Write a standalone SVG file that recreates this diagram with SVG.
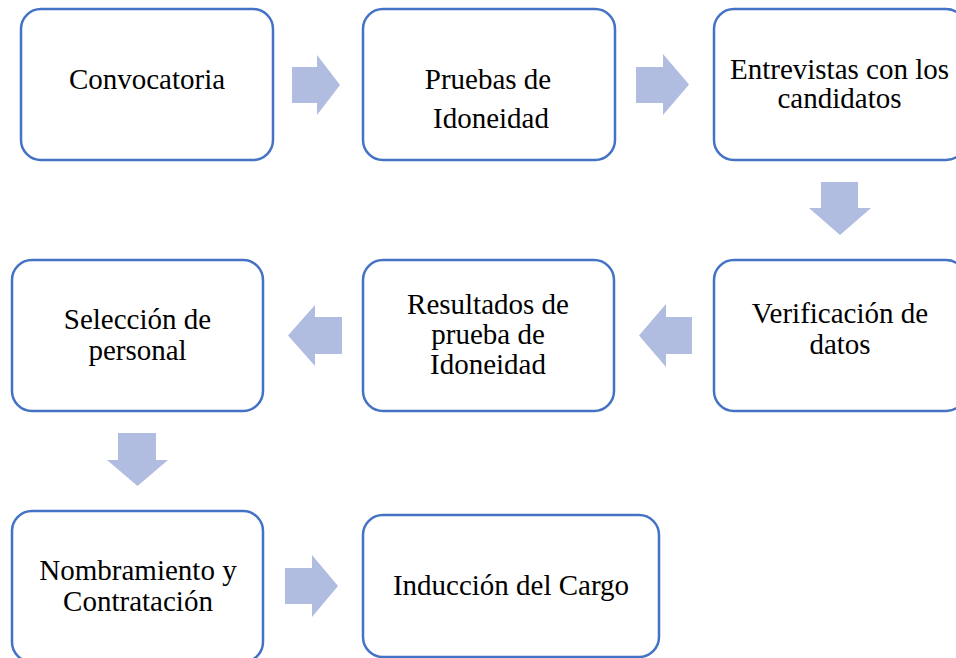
<svg xmlns="http://www.w3.org/2000/svg" width="956" height="658" viewBox="0 0 956 658">
<style>
.box{fill:#ffffff;stroke:#4472C4;stroke-width:2.5}
.lbl{font-size:29px;fill:#000000;text-anchor:middle}
.arr{fill:#B0BCE0;stroke:none}
</style>
<rect width="956" height="658" fill="#ffffff"/>
<g id="connectors">
<polygon class="arr" points="292,67 317,67 317,55 340,85 317,115 317,103 292,103"/>
<polygon class="arr" points="636,67 663,67 663,54 689,84.5 663,115 663,103 636,103"/>
<polygon class="arr" points="821,182 858,182 858,208 871,208 840,235 809,208 821,208"/>
<polygon class="arr" points="692,317 666,317 666,304 639,335.5 666,367 666,354 692,354"/>
<polygon class="arr" points="342,317 315,317 315,305 288,335.5 315,366 315,354 342,354"/>
<polygon class="arr" points="118,433 156,433 156,460 168,460 137.5,486 107,460 118,460"/>
<polygon class="arr" points="285,568 312,568 312,555 338,586 312,617 312,604 285,604"/>
</g>
<g font-family="Liberation Serif, Times New Roman, DejaVu Serif, serif">
<g id="n1">
<rect class="box" x="21" y="9" width="252" height="151" rx="20"/>
<text class="lbl" x="147" y="89">Convocatoria</text>
</g>
<g id="n2">
<rect class="box" x="363" y="9" width="252" height="151" rx="20"/>
<text class="lbl" x="488" y="89">Pruebas de</text>
<text class="lbl" x="491" y="128">Idoneidad</text>
</g>
<g id="n3">
<rect class="box" x="714" y="9" width="252" height="151" rx="20"/>
<text class="lbl" x="839.5" y="79">Entrevistas con los</text>
<text class="lbl" x="839.5" y="108">candidatos</text>
</g>
<g id="n4">
<rect class="box" x="714" y="260" width="252" height="151" rx="20"/>
<text class="lbl" x="840" y="323">Verificación de</text>
<text class="lbl" x="840" y="354">datos</text>
</g>
<g id="n5">
<rect class="box" x="363" y="260" width="251" height="151" rx="20"/>
<text class="lbl" x="488" y="314">Resultados de</text>
<text class="lbl" x="488" y="344">prueba de</text>
<text class="lbl" x="488" y="374">Idoneidad</text>
</g>
<g id="n6">
<rect class="box" x="12" y="260" width="251" height="151" rx="20"/>
<text class="lbl" x="137.5" y="329">Selección de</text>
<text class="lbl" x="137.5" y="360">personal</text>
</g>
<g id="n7">
<rect class="box" x="12" y="511" width="251" height="151" rx="20"/>
<text class="lbl" x="138" y="580">Nombramiento y</text>
<text class="lbl" x="138" y="611">Contratación</text>
</g>
<g id="n8">
<rect class="box" x="363" y="515" width="296" height="142" rx="20"/>
<text class="lbl" x="511" y="595">Inducción del Cargo</text>
</g>
</g>
</svg>
